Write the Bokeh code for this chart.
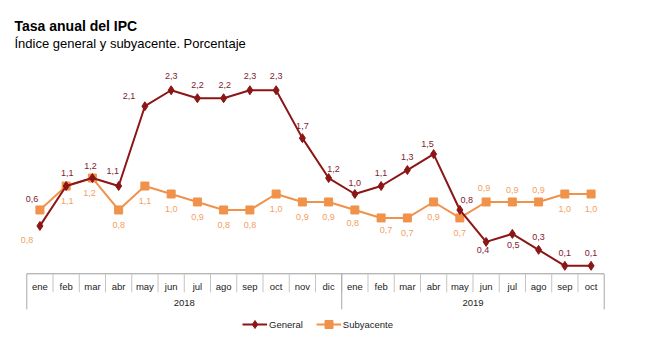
from bokeh.plotting import figure
from bokeh.models import FactorRange, Range1d, ColumnDataSource, Legend, LegendItem, Label
from bokeh.embed import file_html
from bokeh.resources import INLINE
from bokeh.core.properties import value

# ---------------- data ----------------
years = ["2018"] * 12 + ["2019"] * 10
months = ["ene", "feb", "mar", "abr", "may", "jun", "jul", "ago", "sep", "oct", "nov", "dic",
          "ene", "feb", "mar", "abr", "may", "jun", "jul", "ago", "sep", "oct"]
general = [0.6, 1.1, 1.2, 1.1, 2.1, 2.3, 2.2, 2.2, 2.3, 2.3, 1.7, 1.2,
           1.0, 1.1, 1.3, 1.5, 0.8, 0.4, 0.5, 0.3, 0.1, 0.1]
subyacente = [0.8, 1.1, 1.2, 0.8, 1.1, 1.0, 0.9, 0.8, 0.8, 1.0, 0.9, 0.9,
              0.8, 0.7, 0.7, 0.9, 0.7, 0.9, 0.9, 0.9, 1.0, 1.0]
year_labels = ["2018", "2019"]
title_text = "Tasa anual del IPC"
subtitle_text = "Índice general y subyacente. Porcentaje"

# ---------------- style: label offsets in screen pixels ----------------
gen_dx = [-8, 1, -2, -6, -16, 0, 0, 1, 0, 0, 0, 5, 0, 0, 0, -6, 7, -3, 1, 0, 0, 0]
gen_dy = [-27, -13, -12, -15, -10, -14, -13, -13, -14, -14, -12, -9, -11, -13, -13, -10, -10, 8, 11, -13, -13, -13]
sub_dx = [-13, 1, -3, 0, 0, 0, 0, 0, 0, 0, 0, 0, -2, 5, 0, 0, 0, -2, 0, 0, 0, 0]
sub_dy = [30, 15, 15, 15, 15, 15, 15, 15, 15, 15, 15, 15, 13, 12, 15, 15, 15, -14, -12, -12, 15, 15]

GEN_COLOR = "#8C1515"
GEN_LABEL = "#7E1A30"
SUB_COLOR = "#F0924A"
SUB_LABEL = "#F3A05E"
FONT = "Liberation Sans"

# layout (pixels) - the frame covers the whole page height
W, H = 649, 357
TABLE_L = 26.3          # left edge of the category table
CAT_W = 26.26           # width of one category
ZERO_Y = 273.3          # pixel row of the value 0
PX = 79.8               # pixels per unit


def below(px):
    return -px / PX


factors = list(zip(years, months))
fmt = lambda v: f"{v:.1f}".replace(".", ",")

src = ColumnDataSource(dict(
    x=factors, general=general, subyacente=subyacente,
    gen_lab=[fmt(v) for v in general], sub_lab=[fmt(v) for v in subyacente],
    gdx=gen_dx, gdy=gen_dy, sdx=sub_dx, sdy=sub_dy,
))

pad = TABLE_L / CAT_W
frame_w = (len(factors) + 2 * pad) * CAT_W

y0 = below(H - ZERO_Y)
y1 = ZERO_Y / PX

p = figure(width=W, height=H,
           x_range=FactorRange(factors=factors, factor_padding=0, group_padding=0,
                               range_padding=pad, range_padding_units="absolute"),
           y_range=Range1d(y0, y1),
           output_backend="svg", toolbar_location=None,
           x_axis_location=None, y_axis_location=None,
           min_border_left=0, min_border_right=int(round(W - frame_w)),
           min_border_top=0, min_border_bottom=0,
           outline_line_color=None, title=None)
p.xgrid.visible = False
p.ygrid.visible = False
p.background_fill_color = "white"
p.border_fill_color = "white"

# titles (screen units, from the bottom-left corner)
p.add_layout(Label(x=14, y=H - 25.7, x_units="screen", y_units="screen",
                   text=title_text, text_font=FONT, text_font_size="14px",
                   text_font_style="bold", text_color="#000000",
                   text_align="left", text_baseline="middle"))
p.add_layout(Label(x=14, y=H - 42.7, x_units="screen", y_units="screen",
                   text=subtitle_text, text_font=FONT, text_font_size="13px",
                   text_color="#000000", text_align="left", text_baseline="middle"))

# category table (axis)
bounds = [(y, m, -0.5) for (y, m) in factors] + [(factors[-1][0], factors[-1][1], 0.5)]
p.segment(x0=[bounds[0]], y0=[0], x1=[bounds[-1]], y1=[0], line_color="#9A9A9A", line_width=1)
p.segment(x0=bounds[1:-1], y0=[0] * (len(bounds) - 2), x1=bounds[1:-1],
          y1=[below(18.5)] * (len(bounds) - 2), line_color="#C4C4C4", line_width=1)
year_bounds = [bounds[0], bounds[12], bounds[-1]]
p.segment(x0=year_bounds, y0=[0] * 3, x1=year_bounds, y1=[below(35.5)] * 3,
          line_color="#A8A8A8", line_width=1)
p.text(x=factors, y=[below(13)] * len(factors), text=months, text_font=value(FONT),
       text_font_size="9.5px", text_align="center", text_baseline="middle", text_color="#222222")
p.text(x=year_labels, y=[below(29)] * 2, text=year_labels, text_font=value(FONT),
       text_font_size="9.5px", text_align="center", text_baseline="middle", text_color="#222222")

# series
sl = p.line(x="x", y="subyacente", source=src, line_color=SUB_COLOR, line_width=2)
ss = p.scatter(x="x", y="subyacente", source=src, marker="square", size=8,
               fill_color=SUB_COLOR, line_color=SUB_COLOR)
gl = p.line(x="x", y="general", source=src, line_color=GEN_COLOR, line_width=2)
gs = p.scatter(x="x", y="general", source=src, marker="diamond", size=9,
               fill_color=GEN_COLOR, line_color=GEN_COLOR)

p.text(x="x", y="subyacente", text="sub_lab", source=src, x_offset="sdx", y_offset="sdy",
       text_font=value(FONT), text_font_size="9px", text_align="center",
       text_baseline="middle", text_color=SUB_LABEL)
p.text(x="x", y="general", text="gen_lab", source=src, x_offset="gdx", y_offset="gdy",
       text_font=value(FONT), text_font_size="9px", text_align="center",
       text_baseline="middle", text_color=GEN_LABEL)

legend = Legend(items=[LegendItem(label="General", renderers=[gl, gs]),
                       LegendItem(label="Subyacente", renderers=[sl, ss])],
                orientation="horizontal", location=(242, 23),
                glyph_width=25, glyph_height=20, label_height=20, label_standoff=2,
                spacing=13, padding=0, margin=0, border_line_color=None,
                background_fill_alpha=0, label_text_font=FONT,
                label_text_font_size="9.5px", label_text_color="#222222")
p.add_layout(legend)

open("out.html", "w").write(file_html(p, INLINE))
